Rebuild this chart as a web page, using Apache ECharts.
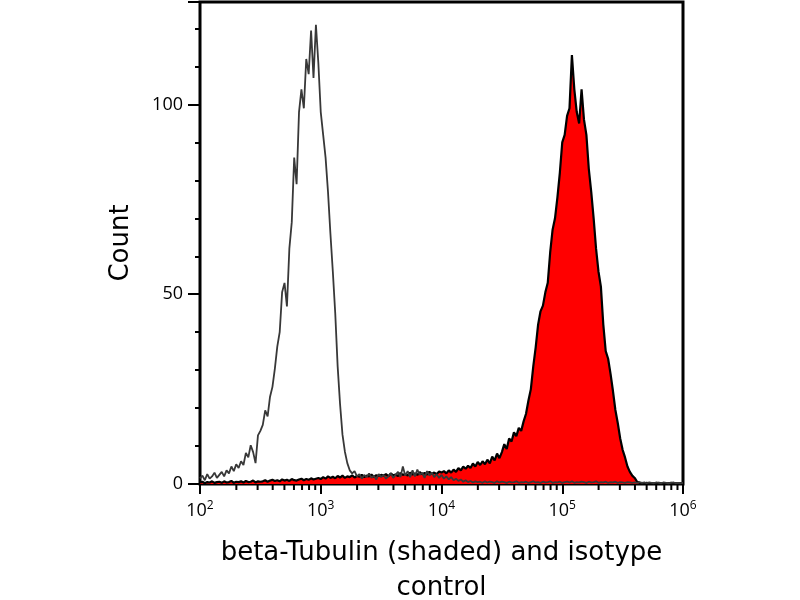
<!DOCTYPE html>
<html>
<head>
<meta charset="utf-8">
<script src="https://cdn.jsdelivr.net/npm/echarts@6/dist/echarts.min.js"></script>
<style>
html,body{margin:0;padding:0;background:#fff;}
#chart{width:800px;height:600px;}
</style>
</head>
<body>
<div id="chart"></div>
<script>
// Histogram channels: log10 of first channel and channel width (decades)
const channelStart = 2;
const channelStep = 0.02;

// Isotype control counts (unshaded grey outline), one per channel
const isotypeCounts = [
  1.5,2.2,1.0,2.6,1.4,2.0,3.0,1.6,2.4,3.2,
  2.0,3.6,2.8,4.6,3.4,5.2,4.2,6.0,5.0,8.2,
  7.0,10.2,8.4,5.5,12.8,14.0,15.6,19.4,17.8,23.0,
  25.6,30.4,36.2,40.0,50.5,53.0,46.8,62.0,69.0,86.0,
  79.0,98.0,104.0,99.0,112.0,108.0,119.5,107.0,121.0,111.0,
  98.0,92.0,86.0,77.0,66.0,56.0,45.0,31.0,21.0,13.0,
  8.5,5.5,3.6,2.8,3.4,2.0,2.6,1.4,2.4,1.8,
  2.8,1.6,2.2,1.2,2.6,1.8,2.4,1.4,2.0,2.8,
  1.6,2.4,3.2,1.8,4.6,2.2,3.4,1.8,3.6,2.0,
  3.8,2.4,3.0,1.6,3.4,2.2,3.0,1.8,2.6,1.6,
  2.4,1.4,2.0,1.2,1.8,1.0,1.4,0.8,1.2,0.6,
  1.0,0.5,0.8,0.4,0.7,0.5,0.6,0.3,0.7,0.4,
  0.6,0.5,0.3,0.7,0.4,0.6,0.5,0.3,0.6,0.4,
  0.5,0.7,0.3,0.5,0.4,0.6,0.3,0.5,0.7,0.4,
  0.5,0.3,0.6,0.4,0.5,0.7,0.3,0.5,0.4,0.6,
  0.3,0.5,0.6,0.4,0.7,0.3,0.5,0.4,0.6,0.5,
  0.3,0.6,0.4,0.5,0.7,0.3,0.5,0.4,0.6,0.3,
  0.5,0.4,0.6,0.3,0.5,0.4,0.3,0.5,0.4,0.3,
  0.4,0.3,0.5,0.3,0.4,0.2,0.4,0.3,0.2,0.4,
  0.3,0.2,0.4,0.3,0.2,0.3,0.4,0.2,0.3,0.2,0.3
];

// beta-Tubulin counts (red shaded), one per channel
const tubulinCounts = [
  0.3,0.6,0.2,0.5,0.4,0.7,0.3,0.5,0.6,0.3,
  0.7,0.4,0.5,0.8,0.3,0.6,0.5,0.7,0.4,0.8,
  0.5,0.6,0.9,0.4,0.7,0.6,0.7,1.0,0.6,0.9,
  1.1,0.8,1.0,0.7,1.2,0.9,1.1,0.8,1.3,1.0,
  0.9,1.2,1.4,1.0,1.3,1.1,1.5,1.2,1.4,1.6,
  1.3,1.8,1.4,2.0,1.6,1.9,1.5,2.1,1.7,2.2,
  1.6,2.0,1.8,2.3,1.7,2.1,1.9,2.4,1.8,2.2,
  2.0,2.5,1.9,2.3,2.1,2.4,2.2,2.6,2.0,2.8,
  2.3,2.5,2.1,2.9,2.4,2.7,2.2,3.0,2.5,2.8,
  2.4,3.1,2.6,2.9,2.5,3.2,2.7,3.0,2.6,3.3,
  3.0,3.4,2.8,3.6,3.0,3.8,3.2,4.2,3.6,4.6,
  4.0,4.8,4.2,5.4,4.6,5.8,5.0,6.0,5.2,6.4,
  5.4,7.2,6.2,8.0,6.8,8.4,10.5,9.2,12.0,11.2,
  13.6,12.6,14.8,14.0,16.5,18.5,22.0,25.0,31.0,36.0,
  42.0,45.5,47.0,50.5,53.0,61.0,67.0,70.0,75.5,82.0,
  90.0,92.0,97.0,99.0,113.0,104.0,98.0,95.0,104.0,96.0,
  92.0,83.0,77.0,70.0,62.0,56.0,52.0,42.0,35.0,33.0,
  29.0,24.5,19.5,16.0,12.0,9.0,7.0,4.6,3.2,2.2,
  1.6,0.6,0.3,0.2,0.1,0.3,0.1,0.2,0.1,0.2,
  0.3,0.1,0.2,0.1,0.2,0.3,0.1,0.2,0.1,0.2,0.1
];

// Axis tick values
const xMajorTicks = [100, 1000, 10000, 100000, 1000000];
const xMinorTicks = [
  200,300,400,500,600,700,800,900,
  2000,3000,4000,5000,6000,7000,8000,9000,
  20000,30000,40000,50000,60000,70000,80000,90000,
  200000,300000,400000,500000,600000,700000,800000,900000
];
const yTicks = [0, 50, 100];

const xTitle = 'beta-Tubulin (shaded) and isotype\ncontrol';
const yTitle = 'Count';

function toPairs(counts) {
  return counts.map((c, i) => [Math.pow(10, channelStart + i * channelStep), c]);
}

const chart = echarts.init(document.getElementById('chart'), null, {renderer: 'canvas'});
chart.setOption({
  animation: false,
  backgroundColor: '#fff',
  grid: {
    left: 200, right: 117, top: 2, bottom: 116,
    containLabel: false,
    outerBoundsMode: 'none',
    show: true, borderColor: '#000', borderWidth: 3, backgroundColor: 'transparent'
  },
  xAxis: {
    type: 'log',
    logBase: 10,
    min: xMajorTicks[0],
    max: xMajorTicks[xMajorTicks.length - 1],
    splitNumber: 4,
    name: xTitle,
    nameLocation: 'middle',
    nameGap: 52,
    nameTextStyle: {fontFamily: 'DejaVu Sans', fontSize: 26, color: '#000', lineHeight: 35},
    axisLine: {lineStyle: {color: '#000', width: 2}},
    axisTick: {show: true, length: 10, lineStyle: {color: '#000', width: 2}},
    splitLine: {show: false},
    axisLabel: {
      margin: 16,
      color: '#000',
      formatter: function (v) {
        const e = Math.round(Math.log10(v));
        return '{b|10}{s|' + e + '}';
      },
      rich: {
        b: {fontFamily: 'Open Sans', fontSize: 18, color: '#000', lineHeight: 22},
        s: {fontFamily: 'Open Sans', fontSize: 12, color: '#000', verticalAlign: 'top', lineHeight: 12}
      }
    }
  },
  yAxis: {
    type: 'value',
    min: yTicks[0],
    max: 127,
    interval: yTicks[1] - yTicks[0],
    name: yTitle,
    nameLocation: 'middle',
    nameGap: 66,
    nameTextStyle: {fontFamily: 'DejaVu Sans', fontSize: 26, color: '#000'},
    axisLine: {show: true, lineStyle: {color: '#000', width: 2}},
    axisTick: {show: true, length: 12, lineStyle: {color: '#000', width: 2}},
    minorTick: {show: true, splitNumber: 5, length: 5, lineStyle: {color: '#000', width: 2}},
    splitLine: {show: false},
    minorSplitLine: {show: false},
    axisLabel: {
      margin: 17,
      fontFamily: 'Open Sans', fontSize: 18, color: '#000',
      formatter: function (v) { return yTicks.indexOf(v) >= 0 ? String(v) : ''; }
    }
  },
  series: [
    {
      name: 'beta-Tubulin',
      type: 'line',
      data: toPairs(tubulinCounts),
      showSymbol: false,
      symbol: 'none',
      lineStyle: {color: '#000', width: 2.2},
      areaStyle: {color: '#ff0000', opacity: 1},
      z: 2
    },
    {
      name: 'Isotype control',
      type: 'line',
      data: toPairs(isotypeCounts),
      showSymbol: false,
      symbol: 'none',
      lineStyle: {color: '#383838', width: 1.8},
      z: 3
    },
    {
      name: 'x minor ticks',
      type: 'custom',
      silent: true,
      clip: false,
      data: xMinorTicks.map(v => [v, 0]),
      encode: {x: 0, y: 1},
      renderItem: function (params, api) {
        const p = api.coord([api.value(0), 0]);
        return {
          type: 'line',
          shape: {x1: p[0], y1: p[1], x2: p[0], y2: p[1] + 6},
          style: {stroke: '#000', lineWidth: 2}
        };
      },
      z: 4
    }
  ]
});
</script>
</body>
</html>
